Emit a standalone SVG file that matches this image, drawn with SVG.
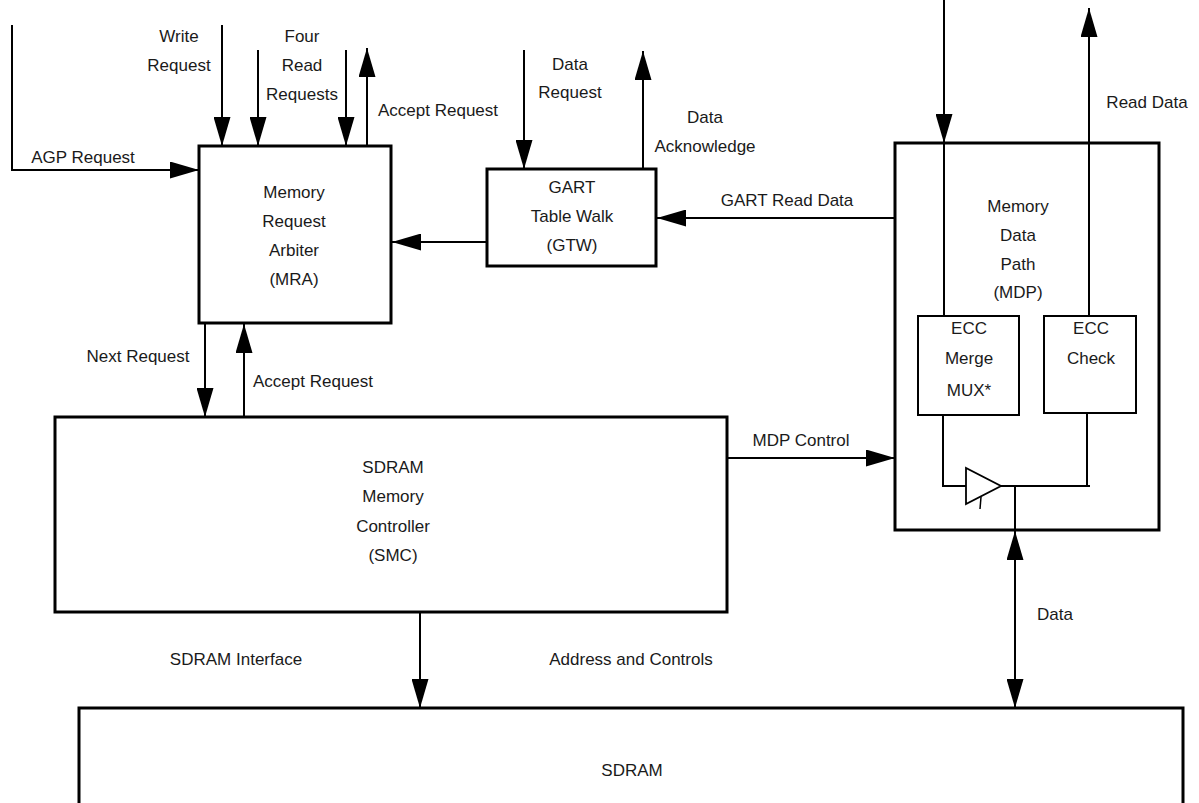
<svg xmlns="http://www.w3.org/2000/svg" width="1199" height="803" viewBox="0 0 1199 803">
<style>
.box{fill:none;stroke:#000;stroke-width:3}
.ibox{fill:none;stroke:#000;stroke-width:2}
.ln{fill:none;stroke:#000;stroke-width:2}
.arr{fill:none;stroke:#000;stroke-width:2;marker-end:url(#ah)}
.bi{fill:none;stroke:#000;stroke-width:2;marker-end:url(#ah);marker-start:url(#ah)}
text{font-family:"Liberation Sans",Arial,sans-serif;font-size:17px;fill:#1a1a1a}
.c{text-anchor:middle}
</style>
<defs>
<marker id="ah" viewBox="0 0 29 17" refX="29" refY="8.5" markerWidth="29" markerHeight="17" orient="auto-start-reverse" markerUnits="userSpaceOnUse">
<path d="M0,0 L29,8.5 L0,17 Z" fill="#000"/>
</marker>
</defs>

<g id="connectors">
<path class="arr" d="M12,25 V170 H199"/>
<path class="arr" d="M222,25 V146"/>
<path class="arr" d="M258,50 V146"/>
<path class="arr" d="M346,50 V146"/>
<path class="arr" d="M367,146 V48"/>
<path class="arr" d="M487,242 H392"/>
<path class="arr" d="M524,50 V169"/>
<path class="arr" d="M643,169 V51"/>
<path class="arr" d="M895,218 H657"/>
<path class="arr" d="M205,323 V417"/>
<path class="arr" d="M244,417 V324"/>
<path class="arr" d="M727,458 H895"/>
<path class="arr" d="M420,612 V708"/>
<path class="bi" d="M1015,531 V708"/>
<path class="arr" d="M944,0 V143"/>
<path class="ln" d="M944,143 V316"/>
<path class="arr" d="M1089,316 V8"/>
<path class="ln" d="M943,415 V486 H966"/>
<path class="ln" d="M1001,486 H1090"/>
<path class="ln" d="M1087,413 V486"/>
<path class="ln" d="M1015,486 V531"/>
</g>

<g id="mra">
<rect class="box" x="199" y="146" width="192" height="177"/>
<text class="c" x="294" y="198">Memory</text>
<text class="c" x="294" y="227">Request</text>
<text class="c" x="294" y="256">Arbiter</text>
<text class="c" x="294" y="285">(MRA)</text>
</g>

<g id="gtw">
<rect class="box" x="487" y="169" width="169" height="97"/>
<text class="c" x="572" y="193">GART</text>
<text class="c" x="572" y="222">Table Walk</text>
<text class="c" x="572" y="251">(GTW)</text>
</g>

<g id="mdp">
<rect class="box" x="895" y="143" width="264" height="387"/>
<text class="c" x="1018" y="212">Memory</text>
<text class="c" x="1018" y="241">Data</text>
<text class="c" x="1018" y="270">Path</text>
<text class="c" x="1018" y="298">(MDP)</text>
</g>

<g id="ecc-merge">
<rect class="ibox" x="918" y="316" width="101" height="99"/>
<text class="c" x="969" y="334">ECC</text>
<text class="c" x="969" y="364">Merge</text>
<text class="c" x="969" y="396">MUX*</text>
</g>

<g id="ecc-check">
<rect class="ibox" x="1044" y="316" width="92" height="97"/>
<text class="c" x="1091" y="334">ECC</text>
<text class="c" x="1091" y="364">Check</text>
</g>

<g id="buffer">
<path d="M966,468 L966,504 L1001,486 Z" fill="#fff" stroke="#000" stroke-width="1.8"/>
<path d="M981,497 L980,509" stroke="#000" stroke-width="1.5" fill="none"/>
</g>

<g id="smc">
<rect class="box" x="55" y="417" width="672" height="195"/>
<text class="c" x="393" y="473">SDRAM</text>
<text class="c" x="393" y="502">Memory</text>
<text class="c" x="393" y="532">Controller</text>
<text class="c" x="393" y="561">(SMC)</text>
</g>

<g id="sdram">
<path class="box" d="M79,810 V708 H1183 V810"/>
<text class="c" x="632" y="776">SDRAM</text>
</g>

<g id="labels">
<text class="c" x="179" y="42">Write</text>
<text class="c" x="179" y="71">Request</text>
<text class="c" x="302" y="42">Four</text>
<text class="c" x="302" y="71">Read</text>
<text class="c" x="302" y="100">Requests</text>
<text class="c" x="83" y="163">AGP Request</text>
<text x="378" y="116">Accept Request</text>
<text class="c" x="570" y="70">Data</text>
<text class="c" x="570" y="98">Request</text>
<text class="c" x="705" y="123">Data</text>
<text class="c" x="705" y="152">Acknowledge</text>
<text class="c" x="787" y="206">GART Read Data</text>
<text class="c" x="1147" y="108">Read Data</text>
<text class="c" x="138" y="362">Next Request</text>
<text x="253" y="387">Accept Request</text>
<text class="c" x="801" y="446">MDP Control</text>
<text x="1037" y="620">Data</text>
<text class="c" x="236" y="665">SDRAM Interface</text>
<text class="c" x="631" y="665">Address and Controls</text>
</g>
</svg>
